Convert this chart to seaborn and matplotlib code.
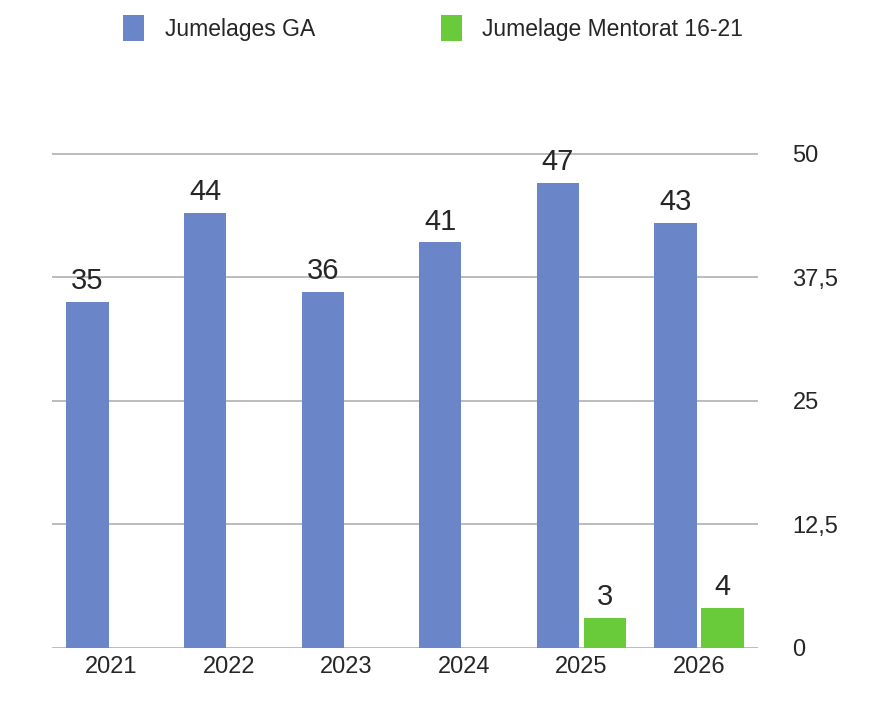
import pandas as pd
import seaborn as sns
from matplotlib import pyplot as plt

years = ['2021', '2022', '2023', '2024', '2025', '2026']
jumelages_ga = [35, 44, 36, 41, 47, 43]
mentorat = [None, None, None, None, 3, 4]
series_names = ['Jumelages GA', 'Jumelage Mentorat 16-21']
yticks = [0, 12.5, 25, 37.5, 50]

df = pd.DataFrame({
    'annee': years * 2,
    'valeur': jumelages_ga + mentorat,
    'serie': [series_names[0]] * len(years) + [series_names[1]] * len(years),
})

sns.set_theme(style='white')
plt.rcParams['font.family'] = ['Liberation Sans', 'DejaVu Sans']

fig, ax = plt.subplots(figsize=(8.71, 7.04), dpi=100)
fig.subplots_adjust(left=0.06, right=0.87, top=0.81, bottom=0.08)

palette = {series_names[0]: '#6a86c8', series_names[1]: '#6acb3a'}
sns.barplot(data=df, x='annee', y='valeur', hue='serie', palette=palette,
            ax=ax, width=0.8, gap=0.1, edgecolor='none', saturation=1)

for cont in ax.containers:
    labels = ['' if (v != v) or v == 0 else f'{v:g}' for v in cont.datavalues]
    ax.bar_label(cont, labels=labels, fontsize=21, padding=5)

ax.yaxis.tick_right()
ax.set_yticks(yticks)
ax.set_yticklabels([f'{t:g}'.replace('.', ',') for t in yticks], fontsize=17)
ax.set_ylim(0, 52)
ax.grid(axis='y', color='#b0b0b0', linewidth=1.2)
ax.set_axisbelow(True)
ax.tick_params(axis='x', labelsize=17, length=0, pad=6)
ax.tick_params(axis='y', length=0, pad=25)
ax.set_xlabel('')
ax.set_ylabel('')
sns.despine(ax=ax, left=True, right=True, top=True, bottom=True)

handles, labels = ax.get_legend_handles_labels()
ax.get_legend().remove()
fig.legend(handles, labels, loc='upper left', bbox_to_anchor=(0.118, 1.008),
           ncol=2, frameon=False, fontsize=16.5, handlelength=0.9,
           handleheight=1.4, handletextpad=0.9, columnspacing=5.5)

plt.savefig('out.png', dpi=100)
